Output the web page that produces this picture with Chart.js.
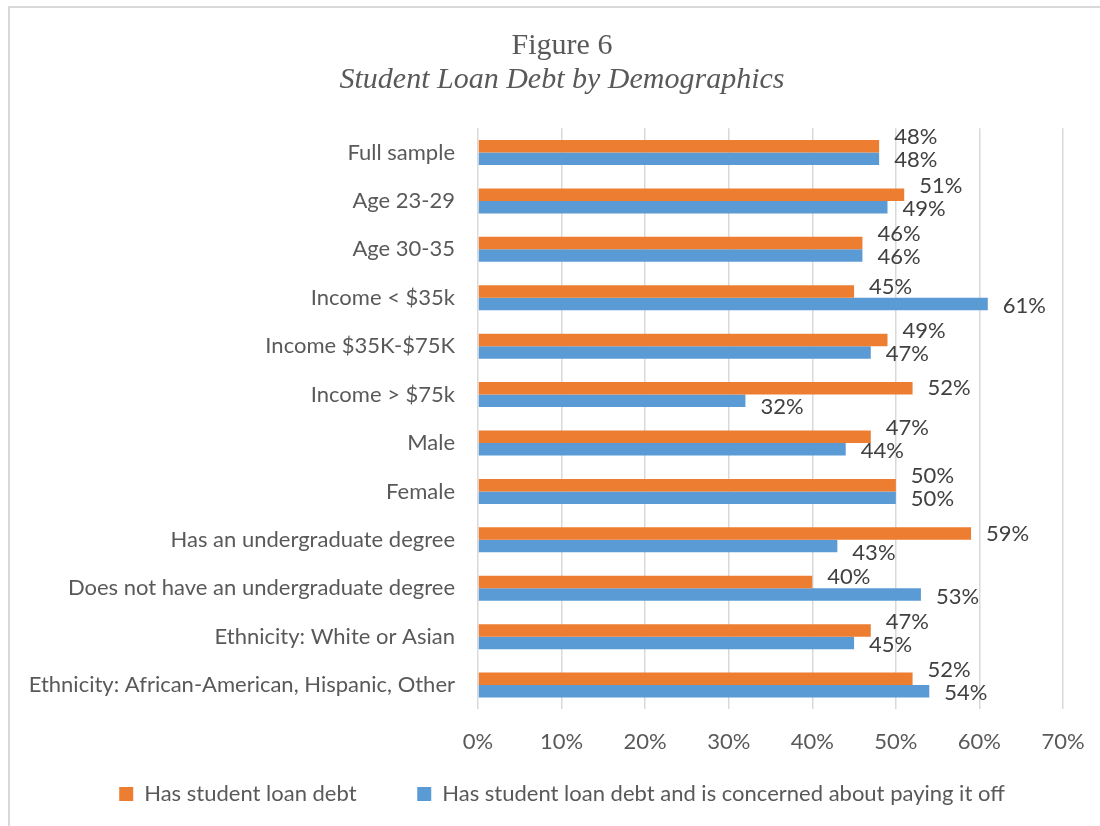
<!DOCTYPE html>
<html>
<head>
<meta charset="utf-8">
<title>Student Loan Debt by Demographics</title>
<script src="https://cdn.jsdelivr.net/npm/chart.js@4/dist/chart.umd.min.js"></script>
<style>
  html, body { margin: 0; padding: 0; background: #fff; overflow: hidden; }
  #frame {
    position: absolute; left: 8px; top: 6px; width: 1300px; height: 1000px;
    border-left: 2px solid #d9d9d9; border-top: 2px solid #d9d9d9;
  }
  #wrap { position: absolute; left: 0; top: 0; width: 1126px; height: 826px; }
</style>
</head>
<body>
<div id="frame"></div>
<div id="wrap"><canvas id="loanChart" width="1126" height="826"></canvas></div>
<script>
// --- data -------------------------------------------------------------------
const categories = [
  'Full sample',
  'Age 23-29',
  'Age 30-35',
  'Income < $35k',
  'Income $35K-$75K',
  'Income > $75k',
  'Male',
  'Female',
  'Has an undergraduate degree',
  'Does not have an undergraduate degree',
  'Ethnicity: White or Asian',
  'Ethnicity: African-American, Hispanic, Other',
];
const hasDebt = [48, 51, 46, 45, 49, 52, 47, 50, 59, 40, 47, 52];
const concernedDebt = [48, 49, 46, 61, 47, 32, 44, 50, 43, 53, 45, 54];
const seriesNames = [
  'Has student loan debt',
  'Has student loan debt and is concerned about paying it off',
];
const axisMax = 70;
const axisStep = 10;

const ORANGE = '#ED7D31';
const BLUE = '#5B9BD5';
const TEXT = '#595959';
const GRID = '#d9d9d9';
const FONT = 'Lato';

// value labels at the end of each bar, nudged apart so the pair doesn't collide
const valueLabels = {
  id: 'valueLabels',
  afterDatasetsDraw(chart) {
    const { ctx } = chart;
    const upper = chart.getDatasetMeta(0).data;
    const lower = chart.getDatasetMeta(1).data;
    ctx.save();
    ctx.font = '22px ' + FONT;
    ctx.fillStyle = '#404040';
    ctx.textAlign = 'left';
    ctx.textBaseline = 'middle';
    upper.forEach((barA, i) => {
      const barB = lower[i];
      const a = hasDebt[i], b = concernedDebt[i];
      let dyA = 0, dyB = 0;
      if (Math.abs(a - b) <= 3) { dyA = -9; dyB = 1.5; }
      else if (a > b) { dyB = 6.5; }
      else { dyA = -5; dyB = 2; }
      ctx.fillText(a + '%', barA.x + 15, barA.y + dyA);
      ctx.fillText(b + '%', barB.x + 15, barB.y + dyB);
    });
    ctx.restore();
  }
};

// default legend items, with a wider gap after the first entry
function legendItems(chart) {
  const items = Chart.defaults.plugins.legend.labels.generateLabels(chart);
  items[0].text += '\u2002\u2002\u2002';
  return items;
}

const ctx = document.getElementById('loanChart').getContext('2d');
new Chart(ctx, {
  type: 'bar',
  data: {
    labels: categories,
    datasets: [
      {
        label: seriesNames[0],
        data: hasDebt,
        backgroundColor: ORANGE,
        borderWidth: 0,
        categoryPercentage: 0.516,
        barPercentage: 1,
      },
      {
        label: seriesNames[1],
        data: concernedDebt,
        backgroundColor: BLUE,
        borderWidth: 0,
        categoryPercentage: 0.516,
        barPercentage: 1,
      },
    ],
  },
  options: {
    indexAxis: 'y',
    responsive: false,
    animation: false,
    layout: { padding: { left: 10, right: 12, top: 0, bottom: 11 } },
    plugins: {
      title: {
        display: true,
        text: 'Figure 6',
        color: TEXT,
        font: { family: 'Liberation Serif', size: 30, weight: 'normal', lineHeight: 1 },
        padding: { top: 31.5, bottom: 3.5 },
      },
      subtitle: {
        display: true,
        text: 'Student Loan Debt by Demographics',
        color: TEXT,
        font: { family: 'Liberation Serif', size: 30, style: 'italic', weight: 'normal', lineHeight: 1 },
        padding: { top: 0, bottom: 33.3 },
      },
      legend: {
        position: 'bottom',
        labels: {
          color: TEXT,
          font: { family: FONT, size: 22 },
          boxWidth: 14,
          boxHeight: 14,
          padding: 27.7,
          generateLabels: legendItems,
        },
      },
      tooltip: { enabled: false },
    },
    scales: {
      x: {
        min: 0,
        max: axisMax,
        afterFit: (scale) => { scale.height = 46; },
        ticks: {
          stepSize: axisStep,
          color: TEXT,
          font: { family: FONT, size: 22 },
          padding: 19,
          callback: (v) => v + '%',
        },
        grid: { color: GRID, lineWidth: 1.5, drawTicks: false },
        border: { display: false },
      },
      y: {
        afterFit: (scale) => { scale.width = 468; },
        ticks: {
          color: TEXT,
          font: { family: FONT, size: 22 },
          padding: 23,
        },
        grid: { display: false, drawTicks: false },
        border: { display: false },
      },
      // empty right-hand gutter, keeps the plot clear of the frame edge
      gutter: {
        type: 'linear',
        position: 'right',
        afterFit: (scale) => { scale.width = 51; },
        ticks: { display: false },
        grid: { display: false, drawTicks: false },
        border: { display: false },
      },
    },
  },
  plugins: [valueLabels],
});
</script>
</body>
</html>
